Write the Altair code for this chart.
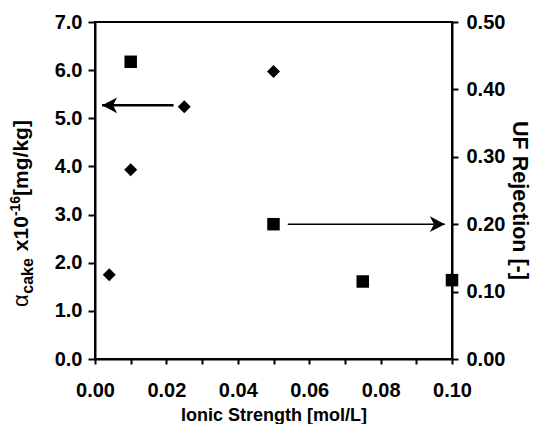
import altair as alt
import pandas as pd

# Data
diamond_x = [0.004, 0.010, 0.025, 0.050]
diamond_y = [1.75, 3.93, 5.24, 5.97]          # alpha_cake x1e-16 [mg/kg] (left axis)
square_x = [0.010, 0.050, 0.075, 0.100]
square_y = [0.441, 0.200, 0.115, 0.117]       # UF rejection [-] (right axis)

left_arrow_x = [0.022, 0.002]                 # tail, tip
left_arrow_y = [5.27]
right_arrow_x = [0.054, 0.098]                # tail, tip
right_arrow_y = [0.20]

x_ticks = [0.0, 0.01, 0.02, 0.03, 0.04, 0.05, 0.06, 0.07, 0.08, 0.09, 0.1]
left_ticks = [0, 1, 2, 3, 4, 5, 6, 7]
right_ticks = [0.0, 0.05, 0.1, 0.15, 0.2, 0.25, 0.3, 0.35, 0.4, 0.45, 0.5]

FONT = "Liberation Sans"
LFS = 20   # tick labels
TFS = 18   # axis titles

xscale = alt.Scale(domain=[0, 0.1], nice=False, zero=False)
xaxis = alt.Axis(
    values=x_ticks,
    labelExpr="round(datum.value*100) % 2 == 0 ? format(datum.value, '.2f') : ''",
    title="Ionic Strength [mol/L]",
    titlePadding=6,
    labelPadding=16,
    ticks=True, domain=True,
    tickSize=5,
    grid=False,
)
yl_scale = alt.Scale(domain=[0, 7], nice=False)
yr_scale = alt.Scale(domain=[0, 0.5], nice=False)

df_d = pd.DataFrame({"x": diamond_x, "y": diamond_y})
df_s = pd.DataFrame({"x": square_x, "y": square_y})

diamonds = alt.Chart(df_d).mark_point(
    shape="diamond", filled=True, color="black", size=169, opacity=1
).encode(
    x=alt.X("x:Q", scale=xscale, axis=xaxis),
    y=alt.Y("y:Q", scale=yl_scale,
            axis=alt.Axis(orient="left", values=left_ticks, format=".1f",
                          ticks=True, domain=True,
                          title=None, tickSize=7, labelPadding=6, grid=False)),
)

df_la = pd.DataFrame({"x": [left_arrow_x[0]], "x2": [left_arrow_x[1]], "y": left_arrow_y})
left_line = alt.Chart(df_la).mark_rule(color="black", strokeWidth=2.5).encode(
    x=alt.X("x:Q", scale=xscale, axis=xaxis), x2="x2:Q",
    y=alt.Y("y:Q", scale=yl_scale),
)
left_head = alt.Chart(df_la).mark_point(
    shape="M0,0L2,-1.05L1.45,0L2,1.05Z", filled=True, color="black", size=225, opacity=1
).encode(
    x=alt.X("x2:Q", scale=xscale, axis=xaxis),
    y=alt.Y("y:Q", scale=yl_scale),
)

squares = alt.Chart(df_s).mark_point(
    shape="square", filled=True, color="black", size=156, opacity=1
).encode(
    x=alt.X("x:Q", scale=xscale, axis=xaxis),
    y=alt.Y("y:Q", scale=yr_scale,
            axis=alt.Axis(orient="right", values=right_ticks,
                          labelExpr="round(datum.value*100) % 10 == 0 ? format(datum.value, '.2f') : ''",
                          ticks=True, domain=True,
                          title="UF Rejection [-]", tickSize=6, labelPadding=8,
                          titlePadding=3, titleFontSize=21.5, titleY=178, grid=False)),
)
df_ra = pd.DataFrame({"x": [right_arrow_x[0]], "x2": [right_arrow_x[1]], "y": right_arrow_y})
right_line = alt.Chart(df_ra).mark_rule(color="black", strokeWidth=1.6).encode(
    x=alt.X("x:Q", scale=xscale, axis=xaxis), x2="x2:Q",
    y=alt.Y("y:Q", scale=yr_scale),
)
right_head = alt.Chart(df_ra).mark_point(
    shape="M0,0L-2,-1.05L-1.45,0L-2,1.05Z", filled=True, color="black", size=225, opacity=1
).encode(
    x=alt.X("x2:Q", scale=xscale, axis=xaxis),
    y=alt.Y("y:Q", scale=yr_scale),
)

# Left-axis title with subscript/superscript, built from pieces (rotated)
# (text, font size, weight, baseline shift, gap after)
pieces = [
    ("\u03b1", 22, "normal", 0, 0),
    ("cake", 16, "bold", 5, 7),
    ("x10", 21, "bold", 0, 0),
    ("-16", 14, "bold", -8, 0),
    ("[mg/kg]", 21, "bold", 0, 0),
]
W = {" ": .278, "-": .333, ".": .278, "/": .278, "[": .333, "]": .333,
     "a": .556, "c": .556, "e": .556, "g": .611, "k": .556, "m": .889, "x": .556,
     "\u03b1": .60}
def tw(s, size):
    return sum(W.get(ch, .556) for ch in s) * size

total = sum(tw(t, s) + g for t, s, _, _, g in pieces)
plot_h = 337
base_x = -67
ypos = plot_h / 2 + total / 2 + 23
title_layers = []
for txt, size, weight, shift, gap in pieces:
    title_layers.append(
        alt.Chart(pd.DataFrame({"t": [txt]})).mark_text(
            angle=270, align="left", baseline="alphabetic", font=FONT,
            fontSize=size, fontWeight=weight, color="black",
        ).encode(x=alt.value(base_x + shift), y=alt.value(ypos), text="t:N")
    )
    ypos -= tw(txt, size) + gap

left_layer = alt.layer(diamonds, left_line, left_head, *title_layers)
right_layer = alt.layer(squares, right_line, right_head)

chart = alt.layer(left_layer, right_layer).resolve_scale(y="independent").properties(
    width=357, height=337,
    autosize=alt.AutoSizeParams(type="none"),
    padding={"left": 87, "top": 14, "right": 91, "bottom": 65},
).configure_view(
    stroke="black", strokeWidth=2
).configure_axis(
    domainColor="black", domainWidth=2, tickColor="black", tickWidth=2,
    labelFlush=False, labelOverlap=False,
    labelFont=FONT, labelFontSize=LFS, labelFontWeight="bold", labelColor="black",
    titleFont=FONT, titleFontSize=TFS, titleFontWeight="bold", titleColor="black",
)

chart.save("out.html", embed_options={"renderer": "svg", "actions": False})
